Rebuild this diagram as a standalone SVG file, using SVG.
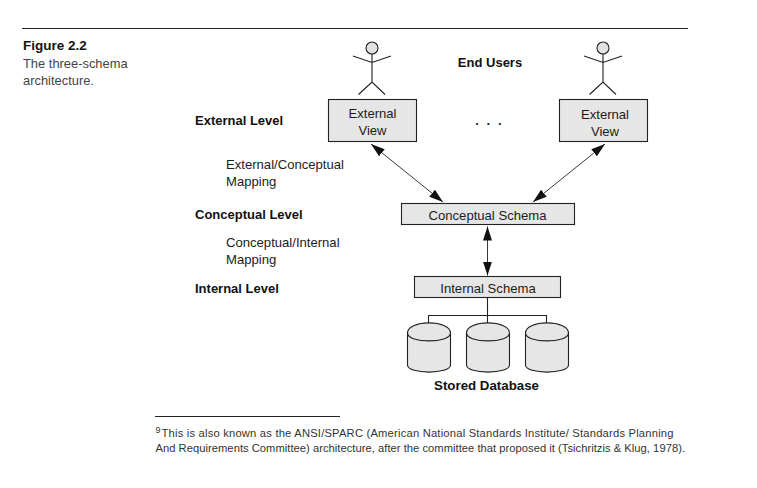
<svg xmlns="http://www.w3.org/2000/svg" width="757" height="488" viewBox="0 0 757 488">
<style>
text{font-family:"Liberation Sans",Arial,sans-serif;font-size:13.1px;fill:#1c1c1c}
.b{font-weight:bold;font-size:13px;fill:#111}
.c{text-anchor:middle}
.g{fill:#444;font-size:12.9px}
.box{fill:#e6e6e6;stroke:#222;stroke-width:1.1}
.ln{fill:none;stroke:#222;stroke-width:1.1}
.ar{fill:none;stroke:#222;stroke-width:.9}
.head{fill:#e2e2e2;stroke:#222;stroke-width:1.1}
.cyl{fill:#e6e6e6;stroke:#222;stroke-width:1.1}
.f{font-size:11.2px;fill:#333}
</style>
<defs>
<marker id="ah" viewBox="0 0 14 9" refX="14" refY="4.500" markerWidth="14" markerHeight="9" orient="auto-start-reverse" markerUnits="userSpaceOnUse"><path d="M0 0L14 4.500L0 9Z" fill="#111"/></marker>
<g id="person"><circle class="head" cx="0" cy="0" r="6"/><path class="ln" d="M-19 8L0 14.500L19 8M0 6V34M-13.500 46.500L0 34L13 46.500"/></g>
<g id="cylinder"><path class="cyl" d="M0 10C0 -3.500 43 -3.500 43 10V42C43 51.500 0 51.500 0 42Z"/><path class="ln" d="M0 10C0 20.500 43 20.500 43 10"/></g>
</defs>
<g id="rules"><path class="ln" d="M22 28.500H688M155 416.500H340"/></g>
<g id="caption"><text class="b" x="23" y="50" style="font-size:13.500px">Figure 2.2</text><text class="g" x="23" y="68">The three-schema</text><text class="g" x="23" y="85">architecture.</text></g>
<g id="labels">
<text class="b" x="195" y="125">External Level</text>
<text x="226" y="169" textLength="118">External/Conceptual</text><text x="226" y="186">Mapping</text>
<text class="b" x="195" y="219">Conceptual Level</text>
<text x="226" y="247">Conceptual/Internal</text><text x="226" y="264">Mapping</text>
<text class="b" x="195" y="293">Internal Level</text>
<text class="b c" x="490" y="67">End Users</text>
<text class="b c" x="486.500" y="390" style="font-size:13.300px">Stored Database</text>
<text class="c" x="489.500" y="125" style="font-weight:bold;letter-spacing:2.100px">. . .</text>
</g>
<g id="connectors">
<path class="ar" d="M371 144L443 202" marker-start="url(#ah)" marker-end="url(#ah)"/>
<path class="ar" d="M605 144L533 202" marker-start="url(#ah)" marker-end="url(#ah)"/>
<path class="ar" d="M487.500 226.500V275.500" marker-start="url(#ah)" marker-end="url(#ah)"/>
<path class="ln" d="M487.500 298V323M428.500 324V315.500H546.500V324"/>
</g>
<g id="user1"><use href="#person" x="372" y="48"/></g>
<g id="user2"><use href="#person" x="603" y="48"/></g>
<g id="external1"><rect class="box" x="328.500" y="99.500" width="88" height="42"/><text class="c" x="372.500" y="118">External</text><text class="c" x="372.500" y="135">View</text></g>
<g id="external2"><rect class="box" x="559.500" y="99.500" width="88" height="42"/><text class="c" x="605" y="119">External</text><text class="c" x="605" y="136">View</text></g>
<g id="conceptual"><rect class="box" x="401.500" y="203.500" width="173" height="21"/><text class="c" x="487.500" y="220">Conceptual Schema</text></g>
<g id="internal"><rect class="box" x="414.500" y="276.500" width="146" height="21"/><text class="c" x="488" y="293">Internal Schema</text></g>
<g id="db1"><use href="#cylinder" x="407.500" y="323"/></g>
<g id="db2"><use href="#cylinder" x="466.500" y="323"/></g>
<g id="db3"><use href="#cylinder" x="525.500" y="323"/></g>
<g id="footnote"><text class="f" x="155.500" y="432.500" font-size="9" style="font-size:9px">9</text><text class="f" x="161.500" y="436.500" textLength="512">This is also known as the ANSI/SPARC (American National Standards Institute/ Standards Planning</text><text class="f" x="155.500" y="451.500" textLength="529.500">And Requirements Committee) architecture, after the committee that proposed it (Tsichritzis &amp; Klug, 1978).</text></g>
</svg>
